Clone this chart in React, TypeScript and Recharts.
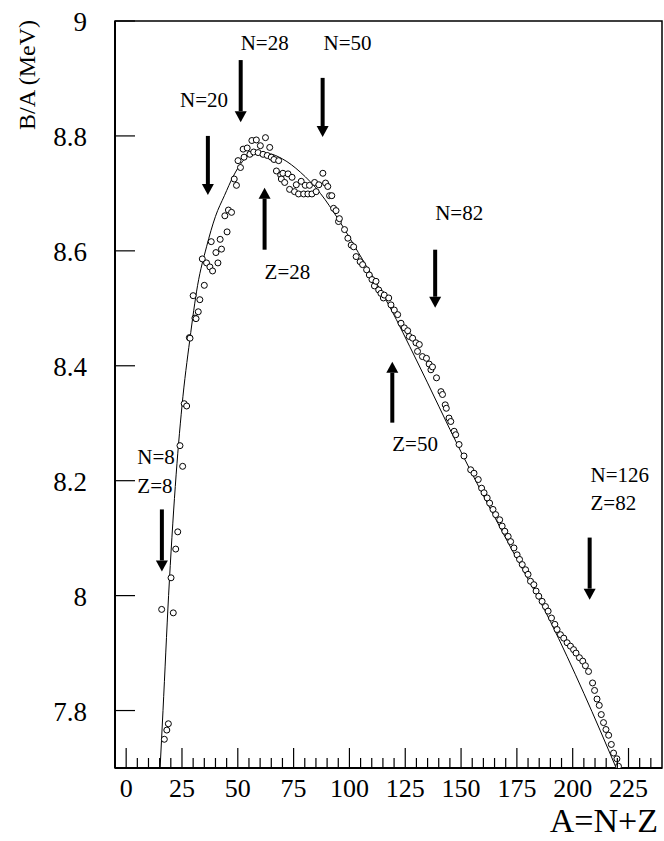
import { ComposedChart, Line, Scatter, XAxis, YAxis, ReferenceLine, ReferenceDot, ReferenceArea } from "recharts"

// semi-empirical fit (solid line)
const fitA = [15.2, 16.5, 19, 22, 25, 28.5, 32, 36, 40, 44, 48, 52, 58, 64, 70, 78, 87, 95, 104, 118, 130, 150, 170, 190, 205, 219.5]
const fitB = [7.70, 7.80, 8.00, 8.19, 8.33, 8.445, 8.54, 8.607, 8.66, 8.696, 8.730, 8.755, 8.770, 8.769, 8.760, 8.737, 8.700, 8.655, 8.597, 8.503, 8.41, 8.25, 8.10, 7.955, 7.83, 7.70]

// measured B/A (open circles)
const expA = [
  15.9, 17.1, 18.2, 18.9, 20.1, 21.1, 22.2, 23.1, 24.1, 25.3, 26.0, 27.1, 28.3, 28.6, 30.0, 30.8, 31.3, 32.3, 33.0, 34.1,
  35.0, 36.0, 37.5, 38.1, 38.7, 40.2, 41.1, 42.1, 42.7, 44.2, 45.2, 45.8, 47.2, 48.4, 49.4, 50.1, 51.2, 52.4, 52.8, 54.2,
  55.4, 56.3, 57.1, 58.3, 59.1, 60.1, 61.3, 62.4, 63.2, 64.3, 65.0, 66.2, 67.3, 68.3, 69.2, 69.5, 70.2, 71.0, 72.5, 73.2,
  74.3, 75.4, 76.2, 77.2, 78.4, 79.5, 80.2, 81.4, 82.1, 83.2, 84.4, 85.1, 86.3, 88.1, 89.3, 90.3, 91.1, 92.1, 92.9, 94.0,
  95.1, 95.5, 97.8, 99.3, 100.8, 101.9, 103.0, 104.8, 105.9, 107.7, 108.9, 110.1, 111.2, 111.9, 113.1, 114.1, 115.2, 115.6, 117.6, 118.6,
  120.1, 121.6, 123.1, 124.6, 126.1, 126.8, 128.3, 129.8, 130.5, 131.3, 132.7, 134.5, 135.7, 136.5, 137.2, 139.0, 141.0, 141.7, 142.9, 143.4,
  144.6, 145.4, 146.9, 147.6, 149.1, 151.3, 154.3, 155.8, 157.7, 159.2, 160.3, 161.7, 162.8, 164.3, 165.5, 167.3, 168.4, 169.6, 171.1, 172.2,
  173.7, 175.1, 176.2, 177.4, 178.9, 180.0, 181.1, 182.6, 183.6, 184.8, 186.3, 187.8, 189.0, 190.5, 192.0, 193.0, 194.5, 196.0, 197.5, 199.0,
  200.4, 201.5, 203.0, 204.5, 205.7, 207.1, 208.9, 209.8, 210.9, 211.9, 212.8, 213.8, 214.9, 216.1, 217.3, 218.3, 219.8, 220.5,
]
const expB = [
  7.976, 7.750, 7.766, 7.777, 8.031, 7.970, 8.081, 8.111, 8.261, 8.225, 8.334, 8.330, 8.449, 8.448, 8.522, 8.483, 8.482, 8.494, 8.515, 8.586,
  8.540, 8.579, 8.572, 8.616, 8.565, 8.597, 8.579, 8.620, 8.603, 8.661, 8.633, 8.671, 8.667, 8.725, 8.714, 8.757, 8.745, 8.777, 8.763, 8.779,
  8.768, 8.792, 8.772, 8.793, 8.771, 8.783, 8.768, 8.797, 8.766, 8.780, 8.763, 8.759, 8.739, 8.757, 8.732, 8.725, 8.735, 8.719, 8.734, 8.707,
  8.728, 8.703, 8.715, 8.699, 8.721, 8.699, 8.714, 8.699, 8.714, 8.699, 8.719, 8.703, 8.715, 8.735, 8.718, 8.712, 8.696, 8.696, 8.674, 8.670,
  8.651, 8.656, 8.637, 8.622, 8.610, 8.607, 8.590, 8.581, 8.576, 8.567, 8.558, 8.550, 8.539, 8.547, 8.532, 8.526, 8.518, 8.523, 8.518, 8.506,
  8.497, 8.489, 8.474, 8.466, 8.461, 8.451, 8.448, 8.440, 8.425, 8.437, 8.416, 8.413, 8.403, 8.393, 8.398, 8.379, 8.355, 8.350, 8.332, 8.326,
  8.309, 8.303, 8.286, 8.280, 8.263, 8.243, 8.219, 8.213, 8.202, 8.187, 8.179, 8.170, 8.161, 8.150, 8.141, 8.132, 8.121, 8.112, 8.103, 8.094,
  8.083, 8.071, 8.063, 8.054, 8.045, 8.037, 8.025, 8.019, 8.008, 7.999, 7.990, 7.981, 7.973, 7.961, 7.950, 7.941, 7.932, 7.926, 7.918, 7.912,
  7.906, 7.900, 7.892, 7.886, 7.878, 7.868, 7.848, 7.835, 7.820, 7.809, 7.793, 7.779, 7.767, 7.757, 7.741, 7.726, 7.716, 7.703,
]

const xTicks = [0, 5, 10, 15, 20, 25, 30, 35, 40, 45, 50, 55, 60, 65, 70, 75, 80, 85, 90, 95, 100, 105, 110, 115, 120, 125, 130, 135, 140, 145, 150, 155, 160, 165, 170, 175, 180, 185, 190, 195, 200, 205, 210, 215, 220, 225, 230, 235]
const yTicks = [7.8, 8, 8.2, 8.4, 8.6, 8.8, 9]

// magic-number arrows: A, tail, tip
const arrowA = [16, 36.6, 51.3, 88, 62, 138.4, 119.2, 207.6]
const arrowTail = [8.15, 8.8, 8.932, 8.901, 8.602, 8.602, 8.301, 8.101]
const arrowTip = [8.042, 8.697, 8.824, 8.798, 8.71, 8.501, 8.407, 7.993]

const labelText = ["N=8", "Z=8", "N=20", "N=28", "N=50", "Z=28", "N=82", "Z=50", "N=126", "Z=82"]
const labelA = [5, 5, 24.1, 51.3, 88.4, 62, 138.4, 119.2, 208, 208]
const labelB = [8.242, 8.19, 8.863, 8.962, 8.962, 8.563, 8.666, 8.263, 8.21, 8.162]

const FONT = "'Liberation Serif', 'Times New Roman', 'DejaVu Serif', serif"

const fitData = fitA.map((a, i) => ({ a, b: fitB[i] }))
const expData = expA.map((a, i) => ({ a, b: expB[i] }))

function XTick(props: any) {
  const { x, y, payload } = props
  const major = payload.value % 25 === 0
  return (
    <g>
      <line x1={x} y1={y} x2={x} y2={y - (major ? 20 : 10)} stroke="#000" strokeWidth={1.2} />
      {major && (
        <text x={x} y={y + 29} textAnchor="middle" style={{ fontFamily: FONT, fontSize: 26 }} fill="#000">
          {payload.value}
        </text>
      )}
    </g>
  )
}

function YTick(props: any) {
  const { x, y, payload } = props
  return (
    <g>
      <line x1={x} y1={y} x2={x + 20} y2={y} stroke="#000" strokeWidth={1.2} />
      <text x={x - 28} y={y + 10} textAnchor="end" style={{ fontFamily: FONT, fontSize: 27 }} fill="#000">
        {payload.value}
      </text>
    </g>
  )
}

function Arrow(props: any) {
  const { x1, y1, x2, y2 } = props
  const dir = y2 > y1 ? 1 : -1
  const head = 11
  return (
    <g>
      <line x1={x1} y1={y1} x2={x2} y2={y2 - dir * head} stroke="#000" strokeWidth={4} />
      <polygon points={`${x2 - 6},${y2 - dir * head} ${x2 + 6},${y2 - dir * head} ${x2},${y2}`} fill="#000" />
    </g>
  )
}

function Circle(props: any) {
  const { cx, cy } = props
  return <circle cx={cx} cy={cy} r={3} fill="#fff" stroke="#000" strokeWidth={1} />
}

export default function App() {
  return (
    <div style={{ position: "absolute", left: 0, top: 0, width: 664, height: 841, background: "#fff", fontFamily: FONT }}>
      <ComposedChart width={664} height={841} margin={{ top: 21, right: 2, bottom: 0, left: 0 }}>
        <XAxis
          type="number"
          dataKey="a"
          domain={[-5, 240]}
          allowDataOverflow
          ticks={xTicks}
          interval={0}
          tickSize={0}
          tickMargin={0}
          tickLine={false}
          height={73}
          axisLine={{ stroke: "#000", strokeWidth: 2 }}
          tick={<XTick />}
          label={{
            content: (p: any) => (
              <text x={p.viewBox.x + p.viewBox.width - 4} y={p.viewBox.y + 64} textAnchor="end" style={{ fontFamily: FONT, fontSize: 34 }} fill="#000">
                A=N+Z
              </text>
            ),
          }}
        />
        <YAxis
          type="number"
          dataKey="b"
          domain={[7.7, 9]}
          allowDataOverflow
          ticks={yTicks}
          interval={0}
          tickSize={0}
          tickMargin={0}
          tickLine={false}
          width={115}
          axisLine={{ stroke: "#000", strokeWidth: 2 }}
          tick={<YTick />}
          label={{
            content: () => (
              <text
                x={27}
                y={75}
                transform="rotate(-90 27 75)"
                textAnchor="middle"
                dominantBaseline="central"
                style={{ fontFamily: FONT, fontSize: 24 }}
                fill="#000"
              >
                B/A (MeV)
              </text>
            ),
          }}
        />
        <ReferenceArea x1={-5} x2={240} y1={7.7} y2={9} fill="none" stroke="#000" strokeWidth={1.5} />
        <Line data={fitData} dataKey="b" type="monotone" stroke="#000" strokeWidth={1} dot={false} isAnimationActive={false} />
        <Scatter data={expData} dataKey="b" shape={<Circle />} isAnimationActive={false} />
        {arrowA.map((a, i) => (
          <ReferenceLine
            key={`arrow-${i}`}
            segment={[{ x: a, y: arrowTail[i] }, { x: a, y: arrowTip[i] }]}
            shape={(p: any) => <Arrow {...p} />}
          />
        ))}
        {labelText.map((t, i) => (
          <ReferenceDot
            key={`lbl-${i}`}
            x={labelA[i]}
            y={labelB[i]}
            r={0}
            shape={(p: any) => (
              <text x={p.cx} y={p.cy + 7} style={{ fontFamily: FONT, fontSize: 21 }} fill="#000">
                {t}
              </text>
            )}
          />
        ))}
      </ComposedChart>
    </div>
  )
}
